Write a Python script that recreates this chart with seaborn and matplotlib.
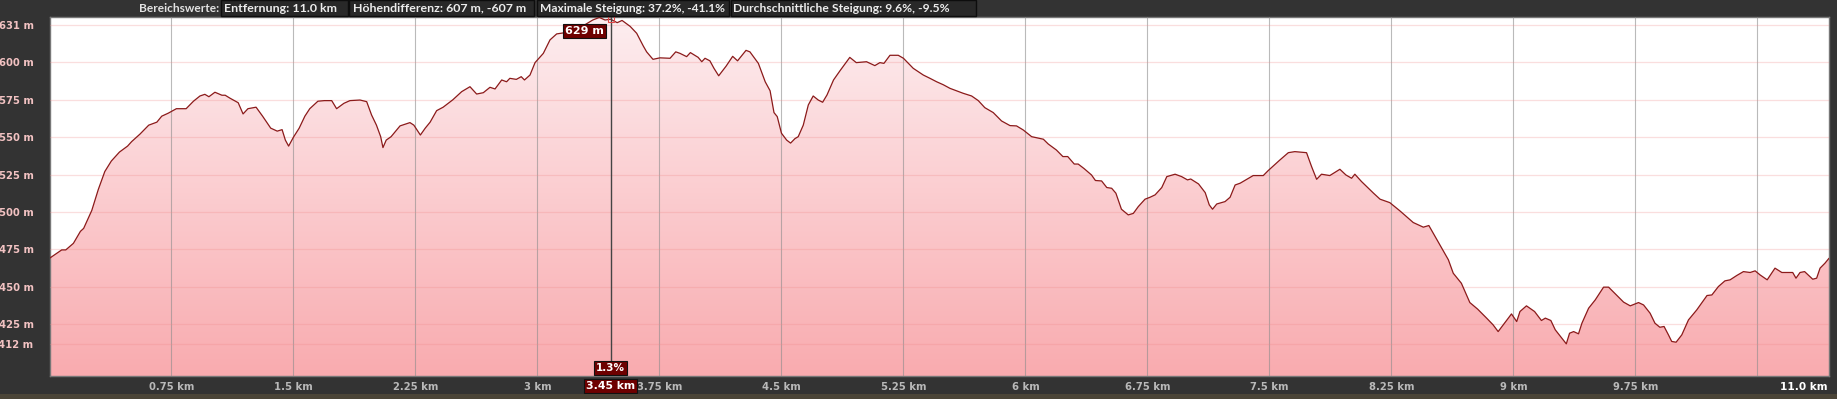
import numpy as np
import pandas as pd
import matplotlib
matplotlib.use("Agg")
import matplotlib.pyplot as plt
import seaborn as sns
from matplotlib.patches import Rectangle
from matplotlib.colors import LinearSegmentedColormap

# ---------------- data ----------------
distance_km = [
    0.000, 0.075, 0.100, 0.147, 0.190, 0.210, 0.260, 0.300, 0.340, 0.380, 0.430, 0.480, 0.505,
    0.556, 0.610, 0.660, 0.690, 0.730, 0.780, 0.840, 0.885, 0.925, 0.955, 0.980, 1.017, 1.060,
    1.080, 1.110, 1.160, 1.190, 1.220, 1.270, 1.310, 1.360, 1.400, 1.430, 1.450, 1.470, 1.500,
    1.535, 1.570, 1.600, 1.650, 1.690, 1.735, 1.765, 1.810, 1.847, 1.909, 1.950, 1.980, 2.010,
    2.036, 2.050, 2.070, 2.100, 2.155, 2.216, 2.240, 2.280, 2.310, 2.340, 2.380, 2.420, 2.480,
    2.534, 2.585, 2.626, 2.667, 2.708, 2.739, 2.780, 2.810, 2.830, 2.870, 2.900, 2.920, 2.954,
    2.985, 3.036, 3.077, 3.118, 3.180, 3.240, 3.290, 3.340, 3.380, 3.415, 3.450, 3.490, 3.520,
    3.570, 3.610, 3.650, 3.671, 3.710, 3.753, 3.815, 3.850, 3.876, 3.917, 3.940, 3.988, 4.010,
    4.030, 4.060, 4.085, 4.114, 4.160, 4.200, 4.230, 4.282, 4.306, 4.358, 4.400, 4.430, 4.454,
    4.474, 4.500, 4.532, 4.556, 4.583, 4.603, 4.634, 4.665, 4.695, 4.726, 4.753, 4.780, 4.820,
    4.860, 4.890, 4.920, 4.960, 5.023, 5.074, 5.105, 5.130, 5.167, 5.218, 5.250, 5.310, 5.372,
    5.413, 5.454, 5.495, 5.536, 5.617, 5.669, 5.710, 5.750, 5.802, 5.853, 5.905, 5.945, 5.986,
    6.038, 6.110, 6.140, 6.190, 6.230, 6.260, 6.300, 6.324, 6.360, 6.406, 6.430, 6.468, 6.500,
    6.530, 6.556, 6.590, 6.632, 6.663, 6.694, 6.735, 6.766, 6.797, 6.838, 6.869, 6.920, 6.960,
    6.996, 7.016, 7.064, 7.105, 7.130, 7.150, 7.176, 7.227, 7.258, 7.289, 7.320, 7.400, 7.462,
    7.492, 7.564, 7.616, 7.656, 7.728, 7.759, 7.790, 7.820, 7.871, 7.933, 7.970, 8.005, 8.025,
    8.066, 8.140, 8.180, 8.240, 8.302, 8.384, 8.446, 8.480, 8.530, 8.600, 8.630, 8.680, 8.732,
    8.780, 8.835, 8.875, 8.906, 8.937, 8.988, 9.020, 9.040, 9.080, 9.130, 9.172, 9.196, 9.230,
    9.257, 9.298, 9.325, 9.345, 9.370, 9.400, 9.421, 9.462, 9.503, 9.554, 9.585, 9.636, 9.677,
    9.718, 9.769, 9.800, 9.840, 9.870, 9.900, 9.926, 9.953, 9.973, 10.000, 10.035, 10.076,
    10.127, 10.190, 10.220, 10.260, 10.300, 10.332, 10.373, 10.414, 10.455, 10.486, 10.516,
    10.560, 10.608, 10.650, 10.717, 10.737, 10.762, 10.790, 10.840, 10.864, 10.885, 10.915, 10.940,
]
elevation_m = [
    469.0, 474.6, 474.6, 479.0, 487.0, 489.0, 501.0, 515.0, 527.0, 534.0, 540.0, 544.0, 547.0,
    552.0, 558.0, 560.0, 564.0, 566.0, 569.0, 569.0, 574.0, 577.5, 578.6, 577.0, 580.0, 578.0,
    578.0, 576.0, 573.0, 565.5, 569.0, 570.0, 564.0, 556.0, 554.0, 555.0, 548.0, 544.0, 550.0,
    556.0, 564.0, 569.0, 574.0, 574.4, 574.4, 569.0, 572.6, 574.4, 574.8, 573.7, 564.8, 558.0,
    550.3, 543.0, 548.0, 550.3, 557.5, 559.7, 558.0, 551.4, 556.0, 560.0, 567.7, 570.0, 575.0,
    580.4, 583.7, 578.8, 579.7, 583.3, 582.2, 588.2, 587.0, 589.3, 588.6, 590.4, 588.2, 591.5,
    599.8, 606.0, 615.0, 619.0, 620.0, 622.0, 625.0, 628.3, 630.0, 628.3, 628.8, 626.5, 628.0,
    624.0, 619.4, 611.0, 607.0, 602.0, 603.0, 602.7, 607.0, 606.0, 603.8, 606.5, 603.3, 600.4,
    602.7, 601.0, 596.0, 591.0, 597.5, 604.0, 601.0, 608.0, 607.0, 599.3, 587.0, 581.0, 566.4,
    563.7, 552.6, 548.0, 546.0, 549.0, 550.3, 558.0, 571.5, 577.5, 574.8, 573.3, 578.2, 588.2,
    594.4, 598.9, 603.3, 599.8, 600.4, 597.8, 599.8, 599.3, 604.7, 604.7, 602.7, 596.0, 591.5,
    589.3, 587.0, 585.0, 582.6, 579.3, 577.5, 574.4, 569.7, 566.4, 560.8, 557.7, 557.5, 554.8,
    550.3, 548.6, 545.4, 541.4, 537.0, 537.0, 532.0, 532.0, 529.0, 524.7, 521.0, 520.7, 516.3,
    515.8, 512.5, 501.8, 498.0, 499.0, 503.6, 508.5, 509.8, 511.4, 516.3, 523.6, 525.2, 523.6,
    521.4, 522.0, 518.7, 512.9, 504.7, 501.8, 505.3, 506.9, 509.8, 518.0, 519.2, 524.3, 524.3,
    527.6, 534.7, 539.6, 540.3, 539.6, 530.3, 521.8, 525.2, 524.3, 528.5, 524.7, 522.5, 525.2,
    520.3, 512.5, 508.5, 506.2, 500.7, 492.9, 489.8, 490.9, 481.3, 468.0, 459.0, 452.3, 439.4,
    435.0, 429.0, 424.5, 420.0, 424.5, 431.8, 426.7, 433.4, 437.2, 433.4, 427.4, 429.0, 427.4,
    421.2, 415.6, 411.8, 418.9, 420.0, 418.5, 425.6, 435.6, 441.2, 449.7, 449.7, 444.1, 439.7,
    437.2, 439.4, 437.8, 432.3, 425.6, 422.9, 423.4, 417.8, 413.4, 412.9, 417.8, 427.8,
    434.5, 444.1, 444.5, 450.1, 453.9, 454.6, 457.5, 460.1, 459.5, 460.6, 457.9,
    454.6, 462.4, 459.5, 459.5, 455.7, 459.5, 460.1, 455.0, 455.7, 462.4, 465.7, 469.0,
]

xtick_km = [0.75, 1.5, 2.25, 3.0, 3.75, 4.5, 5.25, 6.0, 6.75, 7.5, 8.25, 9.0, 9.75, 10.5]
xtick_labels = ["0.75 km", "1.5 km", "2.25 km", "3 km", "3.75 km", "4.5 km", "5.25 km",
                "6 km", "6.75 km", "7.5 km", "8.25 km", "9 km", "9.75 km", ""]
ytick_m = [412, 425, 450, 475, 500, 525, 550, 575, 600, 625]
ytick_labels = ["412 m", "425 m", "450 m", "475 m", "500 m", "525 m", "550 m",
                "575 m", "600 m", "631 m"]

header_title = "Bereichswerte:"
header_items = ["Entfernung: 11.0 km",
                "Höhendifferenz: 607 m, -607 m",
                "Maximale Steigung: 37.2%, -41.1%",
                "Durchschnittliche Steigung: 9.6%, -9.5%"]
total_label = "11.0 km"
cursor_km = 3.45
cursor_elev_label = "629 m"
cursor_grade_label = "1.3%"
cursor_km_label = "3.45 km"
x_max = 10.94
y_min, y_max = 390.3, 630.5

# ---------------- style ----------------
sns.set_theme(style="white")
plt.rcParams["font.family"] = ["DejaVu Sans"]

W, H = 1837, 399
BG = "#333333"
fig = plt.figure(figsize=(W / 100, H / 100), dpi=100, facecolor=BG)
renderer = fig.canvas.get_renderer()

def fx(px):
    return px / W

def fy(py):
    return 1 - py / H

ax = fig.add_axes([fx(49.5), fy(376), (1829 - 49.5) / W, (376 - 16.7) / H])
ax.set_facecolor("white")
ax.set_xlim(0, x_max)
ax.set_ylim(y_min, y_max)

df = pd.DataFrame({"km": distance_km, "elev": elevation_m})

# gradient fill under the profile
cmap = LinearSegmentedColormap.from_list("prof", ["#f9abaf", "#fdeef0"])
grad = np.linspace(0, 1, 256).reshape(-1, 1)
im = ax.imshow(grad, extent=[0, x_max, y_min, y_max], origin="lower",
               aspect="auto", cmap=cmap, zorder=1, interpolation="bilinear")
poly = ax.fill_between(df["km"], df["elev"], y_min, facecolor="none",
                       edgecolor="none", zorder=1)
im.set_clip_path(poly.get_paths()[0], transform=ax.transData)

sns.lineplot(data=df, x="km", y="elev", ax=ax, color="#8b1a1a",
             linewidth=0.9, zorder=3)

# grid
ax.set_axisbelow(False)
ax.set_xticks(xtick_km)
ax.set_xticklabels(xtick_labels)
ax.set_yticks(ytick_m)
ax.set_yticklabels(ytick_labels)
ax.grid(axis="x", color="#8c8c8c", alpha=0.6, linewidth=0.8)
ax.grid(axis="y", color="#f08a8a", alpha=0.28, linewidth=0.9)
ax.tick_params(axis="x", length=0, pad=4.5, labelsize=7.2, labelcolor="#b9b9b9")
ax.tick_params(axis="y", length=0, pad=11.5, labelsize=7.2, labelcolor="#f2c2c2")
for lab in ax.get_yticklabels() + ax.get_xticklabels():
    lab.set_fontweight("bold")
ax.set_xlabel("")
ax.set_ylabel("")
for s in ax.spines.values():
    s.set_color("#777777")
    s.set_linewidth(1)

# total distance label
ax.annotate(total_label, xy=(1, 0), xycoords="axes fraction",
            xytext=(-1, -10.5), textcoords="offset pixels",
            ha="right", va="center", fontsize=7.6, fontweight="bold",
            color="white", annotation_clip=False)

# cursor
ax.axvline(cursor_km, color="#444444", linewidth=1, zorder=4)
cur_elev = float(np.interp(cursor_km, distance_km, elevation_m))
ax.plot([cursor_km], [cur_elev], marker="s", ms=4, mfc="none",
        mec="#e04848", mew=0.8, zorder=5)
box = dict(boxstyle="square,pad=0.18", facecolor="#6e0000",
           edgecolor="#111111", linewidth=0.8)
ax.annotate(cursor_elev_label, xy=(cursor_km, cur_elev),
            xytext=(-7, -12), textcoords="offset pixels",
            ha="right", va="center", fontsize=8, fontweight="bold",
            color="white", bbox=box, zorder=6)
ax.annotate(cursor_grade_label, xy=(cursor_km, y_min),
            xytext=(0, 8), textcoords="offset pixels",
            ha="center", va="center", fontsize=7.5, fontweight="bold",
            color="white", bbox=box, zorder=6)
ax.annotate(cursor_km_label, xy=(cursor_km, y_min),
            xytext=(0, -10), textcoords="offset pixels",
            ha="center", va="center", fontsize=7.8, fontweight="bold",
            color="white", bbox=box, zorder=6, annotation_clip=False)

# header
HEAD_FONT = ["Lato", "DejaVu Sans"]

def fitted_text(x0, x1, s, color):
    t = fig.text(fx(x0), fy(8), s, ha="left", va="center", fontsize=8,
                 fontweight="bold", color=color, family=HEAD_FONT)
    w = t.get_window_extent(renderer).width
    t.set_fontsize(min(9.5, 8 * (x1 - x0) / w))
    return t

fitted_text(139, 219, header_title, "#e2e2e2")
box_edges = [(221, 348), (349, 534), (537, 729), (731, 976)]
text_spans = [(224, 337), (353, 528), (540, 727), (733, 950)]
for (x0, x1), (t0, t1), txt in zip(box_edges, text_spans, header_items):
    fig.patches.append(Rectangle((fx(x0), fy(15.5)), (x1 - x0) / W, 15 / H,
                                 transform=fig.transFigure, facecolor="#282828",
                                 edgecolor="#0d0d0d", linewidth=1))
    fitted_text(t0, t1, txt, "#ececec")

# bottom photo strip
fig.patches.append(Rectangle((0, 0), 1, 5 / H, transform=fig.transFigure,
                             facecolor="#4b4538", edgecolor="none"))

fig.savefig("out.png", dpi=100, facecolor=fig.get_facecolor())
